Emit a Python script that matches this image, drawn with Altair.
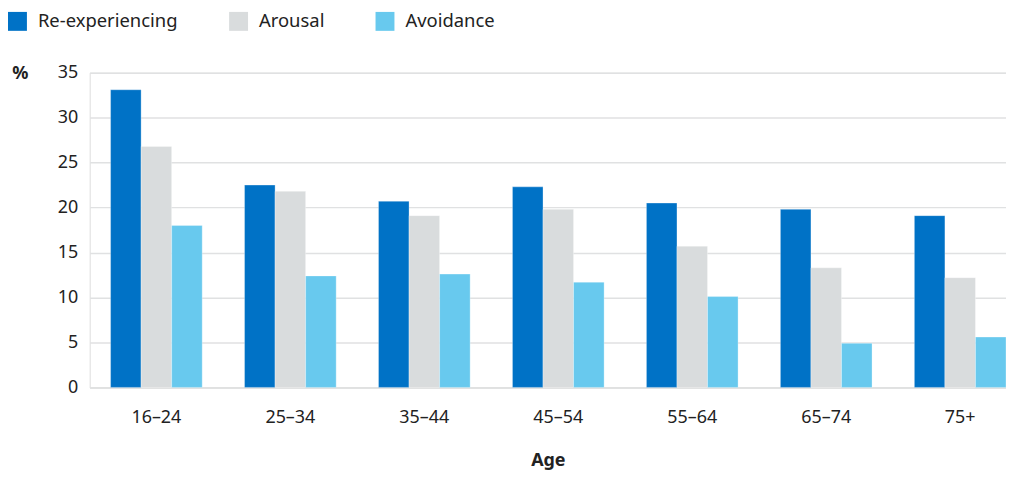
import altair as alt
import pandas as pd

ages = ["16–24", "25–34", "35–44", "45–54", "55–64", "65–74", "75+"]
series = ["Re-experiencing", "Arousal", "Avoidance"]
re_experiencing = [33.1, 22.5, 20.7, 22.3, 20.5, 19.8, 19.1]
arousal = [26.8, 21.8, 19.1, 19.8, 15.7, 13.3, 12.2]
avoidance = [18.0, 12.4, 12.6, 11.7, 10.1, 4.9, 5.6]
colors = ["#0072C6", "#D9DCDD", "#68C9EE"]
y_ticks = [0, 5, 10, 15, 20, 25, 30, 35]

rows = []
for name, vals in zip(series, [re_experiencing, arousal, avoidance]):
    for a, v in zip(ages, vals):
        rows.append({"Age": a, "Series": name, "Value": v})
df = pd.DataFrame(rows)

FONT = "Noto Sans"
TXT = "#222222"

chart = alt.Chart(df).mark_bar(stroke="white", strokeWidth=0.6, strokeOpacity=0.5).encode(
    x=alt.X("Age:N", sort=ages,
            scale=alt.Scale(paddingInner=0.316, paddingOuter=0.078, align=1),
            axis=alt.Axis(title="Age", labelAngle=0, ticks=False, domain=True,
                          domainColor="#DFE0E1", domainWidth=1.5, grid=False,
                          labelPadding=21, labelFontSize=18, labelFont=FONT, labelColor=TXT,
                          titleFont=FONT, titleFontSize=18, titleFontWeight="bold", titleColor=TXT,
                          titlePadding=25)),
    xOffset=alt.XOffset("Series:N", sort=series, scale=alt.Scale(paddingInner=0, paddingOuter=0)),
    y=alt.Y("Value:Q", scale=alt.Scale(domain=[0, 35], nice=False),
            axis=alt.Axis(values=y_ticks, title="%", titleAngle=0, titleX=-70, titleY=1,
                          titleAlign="center", titleBaseline="middle",
                          titleFont=FONT, titleFontSize=18, titleFontWeight="bold", titleColor=TXT,
                          domain=False, ticks=False, labelPadding=12, labelFontSize=18,
                          labelFont=FONT, labelColor=TXT, gridColor="#E0E1E2", gridWidth=1.5)),
    color=alt.Color("Series:N", sort=series,
                    scale=alt.Scale(domain=series, range=colors),
                    legend=alt.Legend(title=None, orient="none", legendX=-82, legendY=-61,
                                      direction="horizontal", symbolType="square",
                                      symbolSize=361, symbolStrokeWidth=0, symbolOpacity=1,
                                      labelFontSize=18.5, labelFont=FONT, labelColor=TXT,
                                      labelLimit=400, labelOffset=11, columnPadding=51)),
).properties(
    width=920, height=316,
    autosize=alt.AutoSizeParams(type="none"),
    padding={"left": 82, "top": 64, "right": 0, "bottom": 83},
).configure_view(stroke=None).configure(background="white")

chart.save("out.html", embed_options={"renderer": "svg", "actions": False})
